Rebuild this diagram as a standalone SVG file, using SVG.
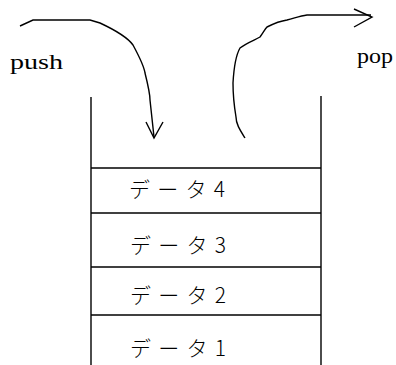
<svg xmlns="http://www.w3.org/2000/svg" width="396" height="365" viewBox="0 0 396 365">
<style>
.ln{stroke:#000;stroke-width:1.4;fill:none}
.lbl{font-family:"Liberation Serif",serif;font-size:20px;fill:#000}
.dt{font-family:"Noto Sans CJK JP",sans-serif;font-size:21px;font-weight:300;fill:#000}
</style>
<rect width="396" height="365" fill="#fff"/>
<g id="connectors">
<path class="ln" d="M20,26 L33,20 L90,20 L100,23 C115,30 128,38 133,45 C140,58 144,66 145,73 C148,85 150,95 150,100 L154,137"/>
<path class="ln" d="M146,122 L154,138 L163,122"/>
<path class="ln" d="M245,138 C240,130 236,124 236,117 C234,105 233,95 233,83 C234,65 236,55 240,48 C248,42 255,40 260,37 C263,33 265,29 267,27 C275,23 280,21 287,20 C295,18 300,16 307,15 L371,15"/>
<path class="ln" d="M354,9 L372,17 L354,27"/>
</g>
<g id="stack">
<line class="ln" x1="91" y1="97" x2="91" y2="365"/>
<line class="ln" x1="321" y1="96" x2="321" y2="365"/>
<line class="ln" x1="91" y1="168" x2="321" y2="168"/>
<line class="ln" x1="91" y1="213" x2="321" y2="213"/>
<line class="ln" x1="91" y1="267" x2="321" y2="267"/>
<line class="ln" x1="91" y1="315" x2="321" y2="315"/>
</g>
<g id="data4"><text class="dt" x="129" y="197" textLength="96" lengthAdjust="spacing">データ4</text></g>
<g id="data3"><text class="dt" x="130" y="253" textLength="96" lengthAdjust="spacing">データ3</text></g>
<g id="data2"><text class="dt" x="130" y="303" textLength="96" lengthAdjust="spacing">データ2</text></g>
<g id="data1"><text class="dt" x="130" y="356" textLength="96" lengthAdjust="spacing">データ1</text></g>
<g id="push"><text class="lbl" x="10" y="69" textLength="53" lengthAdjust="spacingAndGlyphs">push</text></g>
<g id="pop"><text class="lbl" x="357" y="63" textLength="36" lengthAdjust="spacingAndGlyphs">pop</text></g>
</svg>
